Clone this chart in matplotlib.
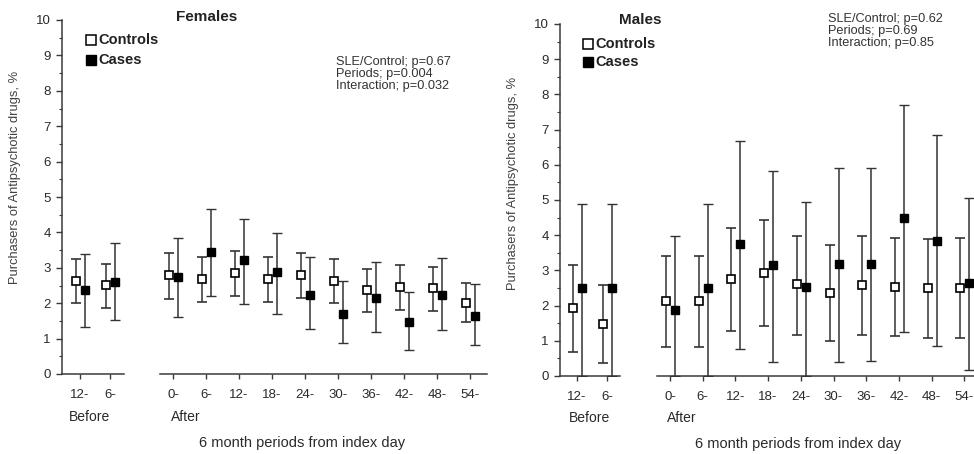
import matplotlib
matplotlib.use("Agg")
import matplotlib.pyplot as plt
import numpy as np

plt.rcParams['font.family'] = ['Liberation Sans', 'DejaVu Sans']

W, H = 974, 454

before_labels = ["12-", "6-"]
after_labels = ["0-", "6-", "12-", "18-", "24-", "30-", "36-", "42-", "48-", "54-"]

# ---- Females ----
f_ctrl_before = [2.64, 2.52]
f_ctrl_before_lo = [2.00, 1.86]
f_ctrl_before_hi = [3.24, 3.10]
f_case_before = [2.38, 2.61]
f_case_before_lo = [1.32, 1.52]
f_case_before_hi = [3.39, 3.70]

f_ctrl_after = [2.79, 2.69, 2.84, 2.69, 2.81, 2.64, 2.38, 2.47, 2.44, 2.00]
f_ctrl_after_lo = [2.12, 2.02, 2.20, 2.02, 2.14, 2.00, 1.74, 1.81, 1.78, 1.46]
f_ctrl_after_hi = [3.41, 3.31, 3.48, 3.31, 3.43, 3.24, 2.98, 3.07, 3.01, 2.56]
f_case_after = [2.74, 3.44, 3.21, 2.87, 2.23, 1.70, 2.14, 1.47, 2.23, 1.63]
f_case_after_lo = [1.61, 2.20, 1.98, 1.70, 1.26, 0.87, 1.19, 0.69, 1.25, 0.82]
f_case_after_hi = [3.84, 4.67, 4.37, 3.97, 3.31, 2.64, 3.17, 2.33, 3.29, 2.54]

# ---- Males ----
m_ctrl_before = [1.93, 1.49]
m_ctrl_before_lo = [0.67, 0.38]
m_ctrl_before_hi = [3.14, 2.58]
m_case_before = [2.50, 2.50]
m_case_before_lo = [0.0, 0.0]
m_case_before_hi = [4.89, 4.89]

m_ctrl_after = [2.12, 2.12, 2.76, 2.93, 2.60, 2.37, 2.58, 2.53, 2.51, 2.51]
m_ctrl_after_lo = [0.83, 0.83, 1.28, 1.42, 1.16, 0.99, 1.16, 1.13, 1.09, 1.09]
m_ctrl_after_hi = [3.41, 3.41, 4.21, 4.42, 3.97, 3.71, 3.97, 3.92, 3.88, 3.92]
m_case_after = [1.88, 2.50, 3.74, 3.14, 2.53, 3.18, 3.18, 4.49, 3.84, 2.64]
m_case_after_lo = [0.0, 0.0, 0.78, 0.41, 0.0, 0.41, 0.44, 1.26, 0.85, 0.17]
m_case_after_hi = [3.97, 4.89, 6.67, 5.82, 4.95, 5.92, 5.92, 7.71, 6.86, 5.05]

f_stats = ["SLE/Control; p=0.67", "Periods; p=0.004", "Interaction; p=0.032"]
m_stats = ["SLE/Control; p=0.62", "Periods; p=0.69", "Interaction; p=0.85"]

ylabel = "Purchasers of Antipsychotic drugs, %"
xlabel = "6 month periods from index day"

AX = '#3a3a3a'
TXT = '#2a2a2a'

fig = plt.figure(figsize=(W / 100, H / 100), dpi=100)


def px_axes(x0, x1, ytop, ybot):
    return fig.add_axes([x0 / W, 1 - ybot / H, (x1 - x0) / W, (ybot - ytop) / H])


def draw(ax, ctrl, clo, chi, case, slo, shi, off_c, off_s):
    x = np.arange(len(ctrl))
    ctrl = np.array(ctrl); case = np.array(case)
    ax.errorbar(x + off_c, ctrl, yerr=[ctrl - np.array(clo), np.array(chi) - ctrl],
                fmt='s', mfc='white', mec='black', mew=1.2, ms=6.2, ecolor='#333333',
                elinewidth=1.1, capsize=3.4, capthick=1.1, zorder=3)
    ax.errorbar(x + off_s, case, yerr=[case - np.array(slo), np.array(shi) - case],
                fmt='s', mfc='black', mec='black', mew=1.0, ms=6.2, ecolor='#333333',
                elinewidth=1.1, capsize=3.4, capthick=1.1, zorder=3)


def style(ax, labels, xlim, left_spine):
    ax.set_xlim(*xlim)
    ax.set_ylim(0, 10)
    for s in ['top', 'right']:
        ax.spines[s].set_visible(False)
    ax.spines['bottom'].set_color(AX)
    ax.spines['bottom'].set_linewidth(1.1)
    ax.set_xticks(np.arange(len(labels)))
    ax.set_xticklabels(labels, fontsize=9.5, color=TXT)
    ax.tick_params(axis='x', length=3.5, width=1.0, color=AX, pad=7)
    ax.patch.set_alpha(0)
    if left_spine:
        ax.spines['left'].set_color(AX)
        ax.spines['left'].set_linewidth(1.1)
        ax.set_yticks(np.arange(0, 11, 1))
        ax.set_yticks(np.arange(0.5, 10, 1), minor=True)
        ax.tick_params(axis='y', which='major', length=4, width=1.0, color=AX,
                       labelsize=9.5, labelcolor=TXT, pad=4)
        ax.tick_params(axis='y', which='minor', length=2, width=0.8, color=AX)
    else:
        ax.spines['left'].set_visible(False)
        ax.set_yticks([])


def ftext(x, y, s, **kw):
    fig.text(x / W, 1 - y / H, s, **kw)


# ---------- Female panel ----------
bsp = 30.0
asp = 33.0
fb = px_axes(62, 124, 20, 374)
draw(fb, f_ctrl_before, f_ctrl_before_lo, f_ctrl_before_hi,
     f_case_before, f_case_before_lo, f_case_before_hi, -4 / bsp, 5 / bsp)
style(fb, before_labels, ((62 - 80) / bsp, (124 - 80) / bsp), True)

fa = px_axes(160, 487, 20, 374)
draw(fa, f_ctrl_after, f_ctrl_after_lo, f_ctrl_after_hi,
     f_case_after, f_case_after_lo, f_case_after_hi, -4 / asp, 5 / asp)
style(fa, after_labels, ((160 - 173) / asp, (487 - 173) / asp), False)

# ---------- Male panel ----------
asp2 = 32.7
mb = px_axes(560, 620, 24, 376)
draw(mb, m_ctrl_before, m_ctrl_before_lo, m_ctrl_before_hi,
     m_case_before, m_case_before_lo, m_case_before_hi, -4 / bsp, 5 / bsp)
style(mb, before_labels, ((560 - 577) / bsp, (620 - 577) / bsp), True)

ma = px_axes(657, 995, 24, 376)
draw(ma, m_ctrl_after, m_ctrl_after_lo, m_ctrl_after_hi,
     m_case_after, m_case_after_lo, m_case_after_hi, -4 / asp2, 5 / asp2)
style(ma, after_labels, ((657 - 670) / asp2, (995 - 670) / asp2), False)

# y labels
ftext(15, 177, ylabel, fontsize=9.3, color='#404040', rotation=90, ha='center', va='center')
ftext(513, 183, ylabel, fontsize=9.3, color='#404040', rotation=90, ha='center', va='center')

# titles
ftext(207, 17, "Females", fontsize=11, fontweight='bold', color='#222222', ha='center', va='center')
ftext(640, 20, "Males", fontsize=11, fontweight='bold', color='#222222', ha='center', va='center')

# legends
for (lx, ly0, ly1) in [(91, 40, 60), (588, 44, 62)]:
    fig.lines.append(plt.Line2D([lx / W], [1 - ly0 / H], marker='s', ms=6.5, mfc='white',
                                mec='black', mew=1.1, ls='none', transform=fig.transFigure))
    fig.lines.append(plt.Line2D([lx / W], [1 - ly1 / H], marker='s', ms=6.5, mfc='black',
                                mec='black', ls='none', transform=fig.transFigure))
    ftext(lx + 7, ly0, "Controls", fontsize=10.5, fontweight='bold', color='#222222', va='center')
    ftext(lx + 7, ly1, "Cases", fontsize=10.5, fontweight='bold', color='#222222', va='center')

# stats
for i, s in enumerate(f_stats):
    ftext(336, 62 + 12 * i, s, fontsize=9.2, color='#333333', va='center')
for i, s in enumerate(m_stats):
    ftext(828, 19 + 12 * i, s, fontsize=9.2, color='#333333', va='center')

# Before / After labels
ftext(89, 417, "Before", fontsize=10, color=TXT, ha='center', va='center')
ftext(171, 417, "After", fontsize=10, color=TXT, ha='left', va='center')
ftext(589, 418, "Before", fontsize=10, color=TXT, ha='center', va='center')
ftext(667, 418, "After", fontsize=10, color=TXT, ha='left', va='center')

# x labels
ftext(302, 443, xlabel, fontsize=10.5, color=TXT, ha='center', va='center')
ftext(798, 444, xlabel, fontsize=10.5, color=TXT, ha='center', va='center')

fig.savefig("out.png", dpi=100)
